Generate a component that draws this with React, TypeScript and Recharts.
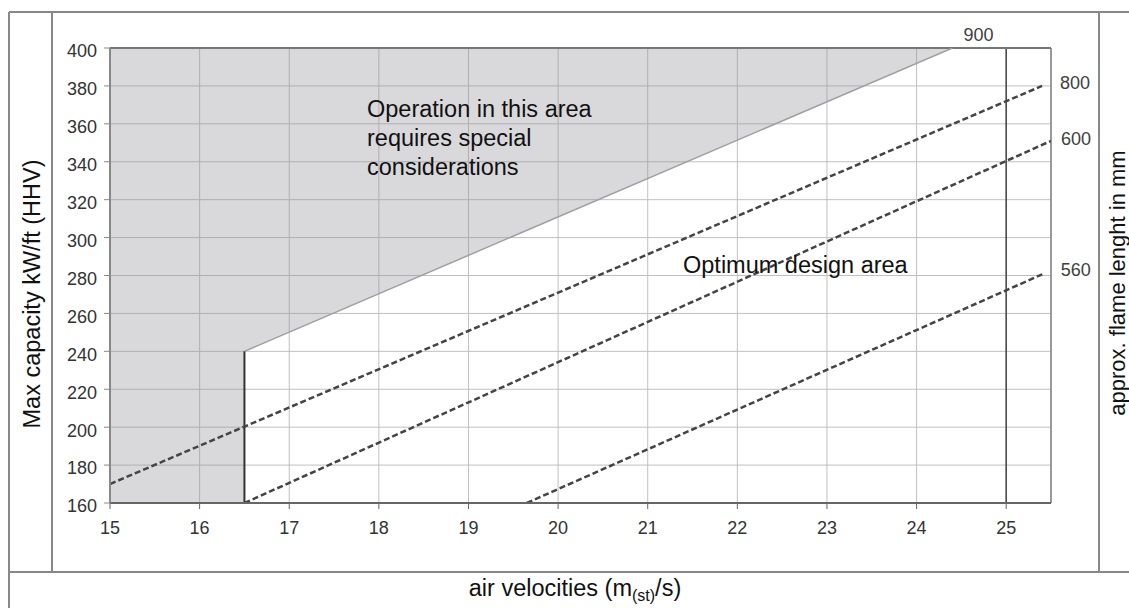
import React from 'react';
import {
  ComposedChart,
  Line,
  Area,
  XAxis,
  YAxis,
  CartesianGrid,
  ReferenceLine,
  LabelList,
} from 'recharts';

// ---- data ----
const velocityTicks = [15, 16, 17, 18, 19, 20, 21, 22, 23, 24, 25];
const capacityTicks = [160, 180, 200, 220, 240, 260, 280, 300, 320, 340, 360, 380, 400];

// special-consideration region (x, lower bound, upper bound)
const specialX = [15, 16.5, 16.5, 24.4];
const specialLow = [160, 160, 240, 400];
const specialHigh = [400, 400, 400, 400];

// boundary of the region
const wallX = [16.5, 16.5];
const wallY = [160, 240];
const slopeX = [16.5, 24.4];
const slopeY = [240, 400];

// flame length lines
const flameLabels = ['900', '800', '600', '560'];
const line800X = [15, 25.4];
const line800Y = [170, 380];
const line600X = [16.5, 25.5];
const line600Y = [160, 351];
const line560X = [19.65, 25.42];
const line560Y = [160, 281];

const zip = (xs: number[], ys: number[]) => xs.map((x, i) => ({ x, y: ys[i] }));
const specialData = specialX.map((x, i) => ({ x, range: [specialLow[i], specialHigh[i]] }));
const wallData = zip(wallX, wallY);
const slopeData = zip(slopeX, slopeY);
const data800 = zip(line800X, line800Y);
const data600 = zip(line600X, line600Y);
const data560 = zip(line560X, line560Y);

const FONT = '"Liberation Sans", Arial, Helvetica, sans-serif';

const endLabel = (text: string, count: number, dx: number, dy: number, anchor: string) => (props: any) => {
  if (props.index !== count - 1) return null;
  const x = props.x ?? props.viewBox?.x;
  const y = props.y ?? props.viewBox?.y;
  return (
    <text x={x + dx} y={y + dy} textAnchor={anchor} fontSize={18} fill="#404040" fontFamily={FONT}>
      {text}
    </text>
  );
};

export default function App() {
  return (
    <div style={{ position: 'absolute', left: 0, top: 0, width: 1129, height: 608, background: '#fff' }}>
      <ComposedChart
        width={1129}
        height={608}
        margin={{ top: 48, right: 78, bottom: 75, left: 50 }}
        style={{ fontFamily: FONT }}
      >
        <CartesianGrid stroke="#c0c0c0" strokeWidth={1} horizontalValues={capacityTicks} verticalValues={velocityTicks} />
        <XAxis
          type="number"
          dataKey="x"
          domain={[15, 25.5]}
          ticks={velocityTicks}
          allowDataOverflow
          height={30}
          tickSize={6}
          tickMargin={12}
          axisLine={{ stroke: '#666', strokeWidth: 2 }}
          tickLine={{ stroke: '#666' }}
          tick={{ fill: '#333', fontSize: 18, fontFamily: FONT }}
        />
        <YAxis
          type="number"
          domain={[160, 400]}
          ticks={capacityTicks}
          allowDataOverflow
          width={60}
          tickSize={6}
          tickMargin={7}
          axisLine={{ stroke: '#888', strokeWidth: 2 }}
          tickLine={{ stroke: '#888' }}
          tick={{ fill: '#333', fontSize: 18, fontFamily: FONT, dy: 3 }}
        />
        <Area
          data={specialData}
          dataKey="range"
          type="linear"
          stroke="none"
          fill="#92929a"
          fillOpacity={0.35}
          isAnimationActive={false}
          activeDot={false}
        />
        <ReferenceLine x={25} stroke="#444" strokeWidth={1.5} />
        <ReferenceLine x={25.5} stroke="#999" strokeWidth={2} />
        <ReferenceLine y={400} stroke="#777" strokeWidth={2} />
        <Line
          data={slopeData}
          dataKey="y"
          type="linear"
          stroke="#a0a0a0"
          strokeWidth={1.5}
          dot={false}
          activeDot={false}
          isAnimationActive={false}
        >
          <LabelList dataKey="y" content={endLabel(flameLabels[0], slopeData.length, 26, -7, 'middle')} />
        </Line>
        <Line
          data={wallData}
          dataKey="y"
          type="linear"
          stroke="#333"
          strokeWidth={2}
          dot={false}
          activeDot={false}
          isAnimationActive={false}
        />
        <Line
          data={data800}
          dataKey="y"
          type="linear"
          stroke="#444"
          strokeWidth={2.5}
          strokeDasharray="6 3"
          dot={false}
          activeDot={false}
          isAnimationActive={false}
        >
          <LabelList dataKey="y" content={endLabel(flameLabels[1], data800.length, 18, 3, 'start')} />
        </Line>
        <Line
          data={data600}
          dataKey="y"
          type="linear"
          stroke="#444"
          strokeWidth={2.5}
          strokeDasharray="6 3"
          dot={false}
          activeDot={false}
          isAnimationActive={false}
        >
          <LabelList dataKey="y" content={endLabel(flameLabels[2], data600.length, 10, 4, 'start')} />
        </Line>
        <Line
          data={data560}
          dataKey="y"
          type="linear"
          stroke="#444"
          strokeWidth={2.5}
          strokeDasharray="6 3"
          dot={false}
          activeDot={false}
          isAnimationActive={false}
        >
          <LabelList dataKey="y" content={endLabel(flameLabels[3], data560.length, 17, 2, 'start')} />
        </Line>
      </ComposedChart>
      <svg
        width={1129}
        height={608}
        style={{ position: 'absolute', left: 0, top: 0, pointerEvents: 'none' }}
        fontFamily={FONT}
      >
        <g stroke="#888" strokeWidth={2} fill="none">
          <line x1={9} y1={12} x2={1129} y2={12} />
          <line x1={9} y1={12} x2={9} y2={608} />
          <line x1={52} y1={12} x2={52} y2={572} />
          <line x1={1099} y1={12} x2={1099} y2={572} />
          <line x1={9} y1={572} x2={1129} y2={572} />
        </g>
        <text x={367} fontSize={23.5} fill="#111">
          <tspan x={367} y={117}>Operation in this area</tspan>
          <tspan x={367} y={146}>requires special</tspan>
          <tspan x={367} y={175}>considerations</tspan>
        </text>
        <text x={683} y={273} fontSize={23.5} fill="#111">Optimum design area</text>
        <text
          x={0}
          y={0}
          fontSize={23.5}
          fill="#111"
          textAnchor="middle"
          transform="translate(40 294) rotate(-90)"
        >
          Max capacity kW/ft (HHV)
        </text>
        <text
          x={0}
          y={0}
          fontSize={22}
          fill="#111"
          textAnchor="middle"
          transform="translate(1125 283) rotate(-90)"
        >
          approx. flame lenght in mm
        </text>
        <text x={575} y={596} fontSize={23.5} fill="#111" textAnchor="middle">
          air velocities (m<tspan fontSize={16} dy={5}>(st)</tspan><tspan dy={-5}>/s)</tspan>
        </text>
      </svg>
    </div>
  );
}
